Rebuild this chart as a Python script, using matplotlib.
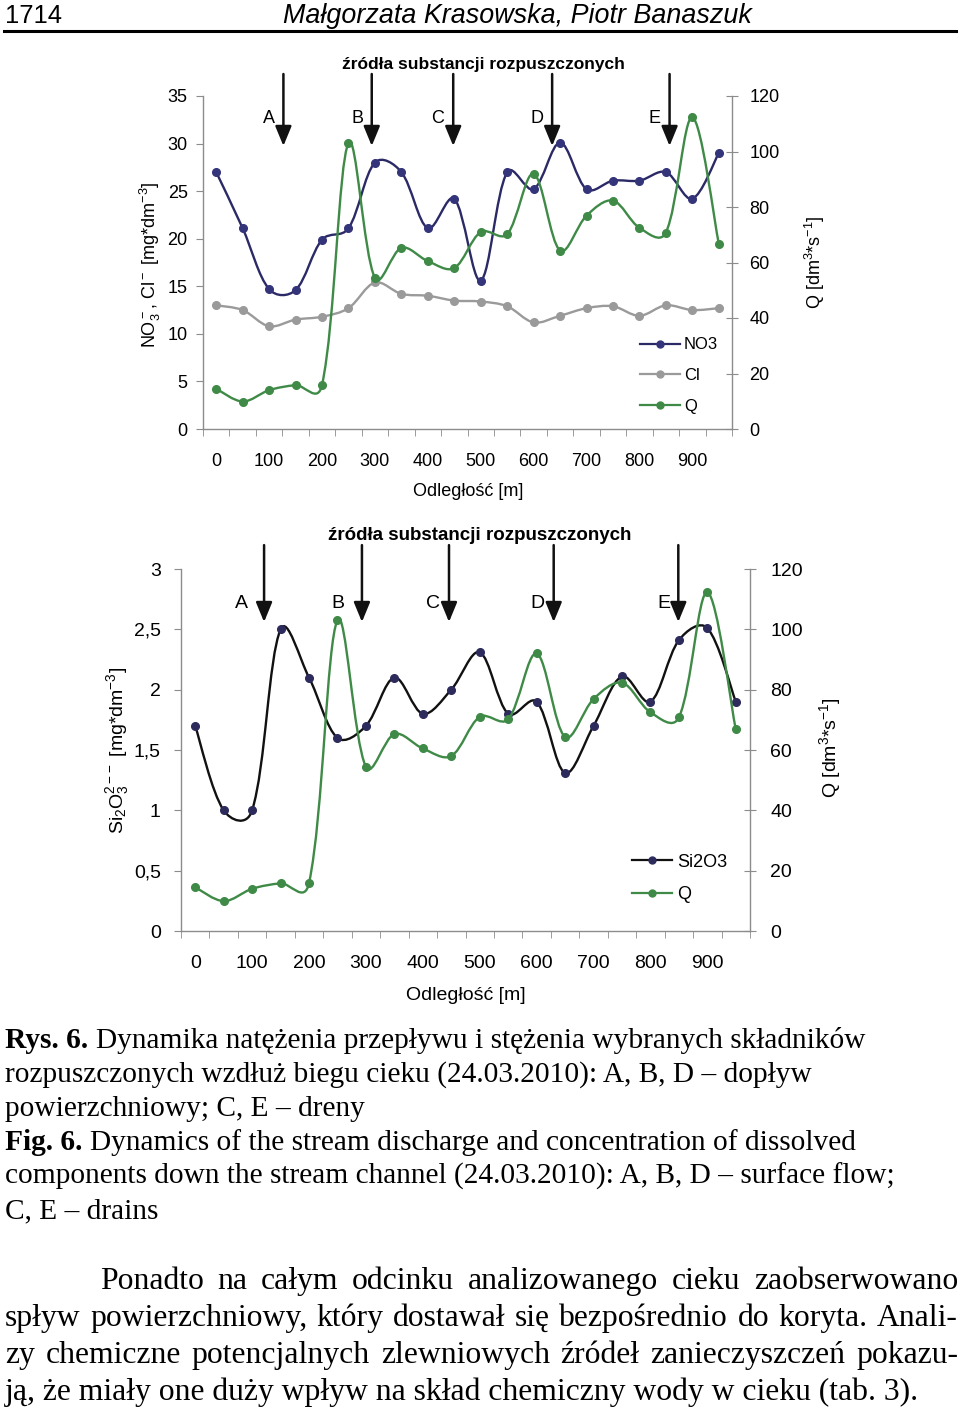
import numpy as np
import matplotlib
matplotlib.use('Agg')
import matplotlib.pyplot as plt
from matplotlib.path import Path
from matplotlib.patches import PathPatch
from matplotlib.lines import Line2D

plt.rcParams['font.family'] = ['Liberation Sans', 'DejaVu Sans']
plt.rcParams['mathtext.fontset'] = 'custom'
plt.rcParams['mathtext.rm'] = 'Liberation Sans'
plt.rcParams['mathtext.it'] = 'Liberation Sans:italic'

# dane
distance = list(range(0, 1000, 50))
no3 = [27.0, 21.1, 14.7, 14.6, 19.9, 21.1, 28.0, 27.0, 21.1, 24.2,
       15.6, 27.0, 25.2, 30.1, 25.2, 26.1, 26.1, 27.0, 24.2, 29.0]
cl = [13.0, 12.5, 10.8, 11.5, 11.8, 12.7, 15.4, 14.2, 14.0, 13.5,
      13.4, 12.9, 11.2, 11.9, 12.7, 12.9, 11.9, 13.0, 12.5, 12.7]
q = [14.5, 9.9, 14.0, 15.8, 15.9, 103.1, 54.4, 65.3, 60.5, 58.0,
     71.0, 70.2, 92.0, 64.3, 76.9, 82.3, 72.5, 70.8, 112.3, 66.8]
si2o3 = [1.70, 1.00, 1.00, 2.50, 2.10, 1.60, 1.70, 2.10, 1.80, 2.00,
         2.31, 1.80, 1.90, 1.31, 1.70, 2.11, 1.90, 2.41, 2.51, 1.90]
xlabels = [str(v) for v in range(0, 1000, 100)]
sources = ['A', 'B', 'C', 'D', 'E']
sources_top = [127, 294, 448, 635, 857]
sources_bottom = [121, 293, 446, 630, 849]
si_ticklabels = ['0', '0,5', '1', '1,5', '2', '2,5', '3']

C_NO3, C_NO3_M = '#2b2a66', '#34347a'
C_CL = '#9a9a9a'
C_Q = '#3f8a47'
C_SI, C_SI_M = '#111111', '#2c2b5c'
GRAY = '#8c8c8c'

W, H = 960, 1414
fig = plt.figure(figsize=(W / 100, H / 100), dpi=100)
fig.patch.set_facecolor('white')


def fx(px):
    return px / W


def fy(py):
    return 1 - py / H


# wygladzona linia jak w Excelu (krzywe Beziera, styczne wazone dlugoscia odcinkow na ekranie)
def smooth_path(ax, xs, ys):
    bb = ax.get_window_extent()
    x0, x1 = ax.get_xlim()
    y0, y1 = ax.get_ylim()
    scale = np.array([bb.width / (x1 - x0), bb.height / (y1 - y0)])
    pts = np.column_stack([xs, ys]).astype(float) * scale
    n = len(pts)
    d = np.r_[np.hypot(*np.diff(pts, axis=0).T), 0.0]
    verts = [pts[0]]
    codes = [Path.MOVETO]
    for i in range(n - 1):
        p1, p2 = pts[i], pts[i + 1]
        p0 = pts[i - 1] if i > 0 else p1
        p3 = pts[i + 2] if i + 2 < n else p2
        s12 = np.sqrt(d[i])
        s01 = np.sqrt(d[i - 1]) if i > 0 else s12
        s23 = np.sqrt(d[i + 1]) if i + 2 < n else s12
        w1 = 2 * s12 / (s01 + s12)
        w2 = 2 * s12 / (s12 + s23)
        verts += [p1 + (p2 - p0) / 6 * w1, p2 - (p3 - p1) / 6 * w2, p2]
        codes += [Path.CURVE4] * 3
    return Path(np.array(verts) / scale, codes)


def draw_series(ax, ys, lc, mc, lw=1.7, z=3):
    ax.add_patch(PathPatch(smooth_path(ax, distance, ys), fill=False, ec=lc, lw=lw, zorder=z))
    ax.plot(distance, ys, 'o', ms=5.5, color=mc, zorder=z + 1)


def setup(ax, ax2, ymax, ystep, fs, lpad, rpad):
    ax.set_xlim(-25, 975)
    ax.set_ylim(0, ymax)
    ax2.set_ylim(0, 120)
    ax.set_xticks(range(0, 1000, 100))
    ax.set_xticklabels(xlabels)
    ax.set_xticks(np.arange(-25, 976, 50), minor=True)
    ax.tick_params(axis='x', which='major', length=0, pad=17, labelsize=fs)
    ax.tick_params(axis='x', which='minor', length=5, color=GRAY, direction='out')
    ax.set_yticks(np.arange(0, ymax + ystep / 2, ystep))
    ax.tick_params(axis='y', length=5, color=GRAY, direction='out', pad=lpad, labelsize=fs)
    ax2.set_yticks(range(0, 121, 20))
    ax2.tick_params(axis='y', length=9, color=GRAY, direction='inout', pad=rpad, labelsize=fs)
    for s in ['top', 'right']:
        ax.spines[s].set_visible(False)
    for s in ['top', 'left', 'bottom']:
        ax2.spines[s].set_visible(False)
    for s in [ax.spines['left'], ax.spines['bottom'], ax2.spines['right']]:
        s.set_color(GRAY)
        s.set_linewidth(1.0)
    ax.patch.set_visible(False)
    ax2.set_xlim(ax.get_xlim())


def arrows(ax, pos, tip, top, label_y, fs, offs):
    for name, x, o in zip(sources, pos, offs):
        ax.annotate('', xy=(x, tip), xycoords=('data', 'axes fraction'),
                    xytext=(x, top), textcoords=('data', 'axes fraction'),
                    arrowprops=dict(arrowstyle='-|>,head_length=0.8,head_width=0.33',
                                    color='#111111', lw=1.8, mutation_scale=15,
                                    shrinkA=0, shrinkB=0),
                    annotation_clip=False)
        ax.annotate(name, xy=(x, label_y), xycoords=('data', 'axes fraction'),
                    xytext=(o, 0), textcoords='offset pixels',
                    ha='center', va='center', fontsize=fs)


# ---------- wykres gorny ----------
ax1 = fig.add_axes([fx(203), fy(429), fx(732) - fx(203), fy(96) - fy(429)])
ax1b = ax1.twinx()
setup(ax1, ax1b, 35, 5, 13, 6, 8)
draw_series(ax1, no3, C_NO3, C_NO3_M)
draw_series(ax1, cl, C_CL, C_CL)
draw_series(ax1b, q, C_Q, C_Q)
arrows(ax1, sources_top, 0.85, 1.066, 0.931, 13, [-14, -14, -16, -15, -15])
h1 = [Line2D([], [], color=C_NO3, marker='o', ms=5, mfc=C_NO3_M, mec=C_NO3_M, lw=1.6),
      Line2D([], [], color=C_CL, marker='o', ms=5, lw=1.6),
      Line2D([], [], color=C_Q, marker='o', ms=5, lw=1.6)]
ax1b.legend(h1, ['NO3', 'Cl', 'Q'], loc='upper left', bbox_to_anchor=(0.826, 0.275),
            frameon=False, fontsize=12, handlelength=2.4, handletextpad=0.25,
            labelspacing=0.95, borderpad=0, borderaxespad=0)

fig.text(fx(483), fy(64), 'źródła substancji rozpuszczonych', ha='center', va='center',
         fontsize=12.5, fontweight='bold')
fig.text(fx(468), fy(491), 'Odległość [m]', ha='center', va='center', fontsize=13)
fig.text(fx(150), fy(265), r'NO$_3^-$, Cl$^-$ [mg*dm$^{-3}$]', rotation=90,
         ha='center', va='center', fontsize=13)
fig.text(fx(815), fy(262), r'Q [dm$^{3}$*s$^{-1}$]', rotation=90,
         ha='center', va='center', fontsize=13)

# ---------- wykres dolny ----------
ax2 = fig.add_axes([fx(181), fy(931), fx(750) - fx(181), fy(569) - fy(931)])
ax2b = ax2.twinx()
setup(ax2, ax2b, 3, 0.5, 14, 9.5, 10)
ax2.set_yticklabels(si_ticklabels)
draw_series(ax2, si2o3, C_SI, C_SI_M)
draw_series(ax2b, q, C_Q, C_Q)
arrows(ax2, sources_bottom, 0.8536, 1.066, 0.906, 14, [-23, -24, -16, -16, -14])
h2 = [Line2D([], [], color=C_SI, marker='o', ms=5, mfc=C_SI_M, mec=C_SI_M, lw=1.6),
      Line2D([], [], color=C_Q, marker='o', ms=5, lw=1.6)]
ax2b.legend(h2, ['Si2O3', 'Q'], loc='upper left', bbox_to_anchor=(0.7926, 0.214),
            frameon=False, fontsize=13, handlelength=2.2, handletextpad=0.3,
            labelspacing=0.85, borderpad=0, borderaxespad=0)

fig.text(fx(480), fy(535), 'źródła substancji rozpuszczonych', ha='center', va='center',
         fontsize=13.5, fontweight='bold')
fig.text(fx(466), fy(996), 'Odległość [m]', ha='center', va='center', fontsize=14)
fig.text(fx(118), fy(750), r'Si$_2$O$_3^{2-\!-}$ [mg*dm$^{-3}$]', rotation=90,
         ha='center', va='center', fontsize=14)
fig.text(fx(830), fy(748), r'Q [dm$^{3}$*s$^{-1}$]', rotation=90,
         ha='center', va='center', fontsize=14)

# ---------- tekst strony ----------
renderer = fig.canvas.get_renderer()


def width_of(t):
    return t.get_window_extent(renderer).width


def fit_size(s, target, **kw):
    t = fig.text(0, 0, s, fontsize=20, **kw)
    w = width_of(t)
    t.remove()
    return 20 * target / w


NARROW = ['Liberation Sans Narrow', 'Liberation Sans']
SERIF = ['Liberation Serif', 'DejaVu Serif']

fs_head = fit_size('1714', 57, family=NARROW)
fig.text(fx(5), fy(23), '1714', fontsize=fs_head, family=NARROW, va='baseline')
fs_auth = fit_size('Małgorzata Krasowska, Piotr Banaszuk', 467, family=NARROW, style='italic')
fig.text(fx(283), fy(23), 'Małgorzata Krasowska, Piotr Banaszuk', fontsize=fs_auth,
         family=NARROW, style='italic', va='baseline')
fig.add_artist(Line2D([fx(4), fx(956)], [fy(31), fy(31)], color='black', lw=2.2))

fs_cap = fit_size('Rys. 6. Dynamika natężenia przepływu i stężenia wybranych składników', 860,
                  family=SERIF)


def caption_line(bold, rest, y):
    x = 5
    if bold:
        tb = fig.text(fx(x), fy(y), bold, fontsize=fs_cap, family=SERIF, fontweight='bold',
                      va='baseline')
        x += width_of(tb) + fs_cap * 0.35
    fig.text(fx(x), fy(y), rest, fontsize=fs_cap, family=SERIF, va='baseline')


caption_line('Rys. 6.', 'Dynamika natężenia przepływu i stężenia wybranych składników', 1048)
caption_line('', 'rozpuszczonych wzdłuż biegu cieku (24.03.2010): A, B, D – dopływ', 1082)
caption_line('', 'powierzchniowy; C, E – dreny', 1116)
caption_line('Fig. 6.', 'Dynamics of the stream discharge and concentration of dissolved', 1150)
caption_line('', 'components down the stream channel (24.03.2010): A, B, D – surface flow;', 1184)
caption_line('', 'C, E – drains', 1218)

para = ['Ponadto na całym odcinku analizowanego cieku zaobserwowano',
        'spływ powierzchniowy, który dostawał się bezpośrednio do koryta. Anali-',
        'zy chemiczne potencjalnych zlewniowych źródeł zanieczyszczeń pokazu-',
        'ją, że miały one duży wpływ na skład chemiczny wody w cieku (tab. 3).']
fs_par = fit_size(para[3], 913, family=SERIF)


def justify(line, x0, x1, y):
    words = line.split(' ')
    texts = [fig.text(0, 0, w, fontsize=fs_par, family=SERIF, va='baseline') for w in words]
    widths = [width_of(t) for t in texts]
    gap = (x1 - x0 - sum(widths)) / (len(words) - 1)
    x = x0
    for t, w in zip(texts, widths):
        t.set_position((fx(x), fy(y)))
        x += w + gap


justify(para[0], 100, 958, 1289)
justify(para[1], 5, 958, 1326)
justify(para[2], 5, 958, 1363)
fig.text(fx(5), fy(1400), para[3], fontsize=fs_par, family=SERIF, va='baseline')

fig.savefig('out.png', dpi=100, facecolor='white')
